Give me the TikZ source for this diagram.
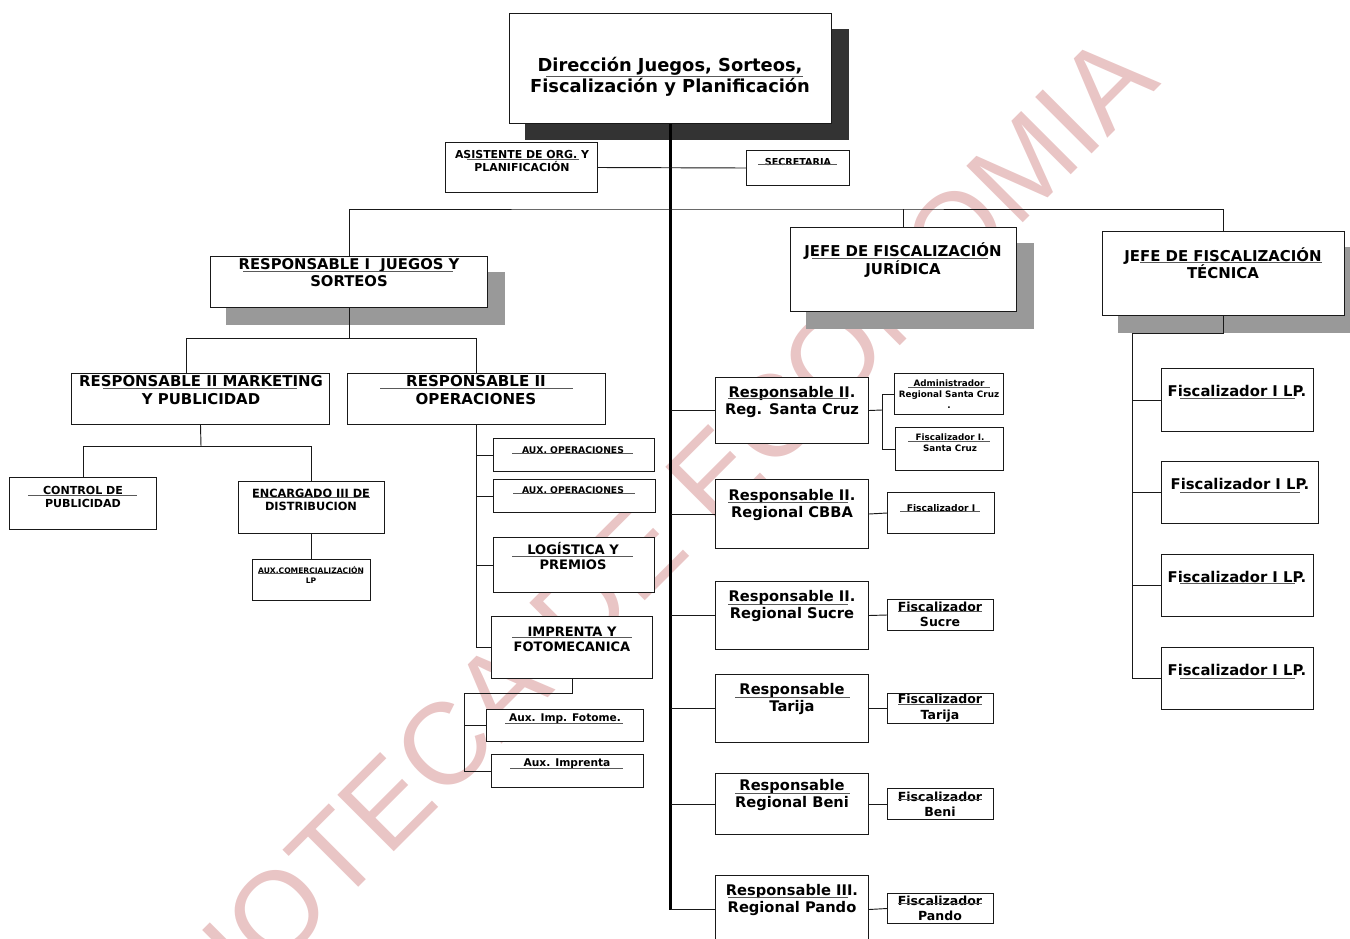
\documentclass[tikz,border=0pt]{standalone}
\usepackage{fontspec}
\setmainfont{DejaVu Sans}
\newfontfamily\wmfont{Liberation Sans}
\usetikzlibrary{backgrounds}
\definecolor{wm}{RGB}{233,197,197}
\definecolor{shdark}{RGB}{51,51,51}
\definecolor{shgray}{RGB}{153,153,153}
\definecolor{edge}{RGB}{25,25,25}
\newcommand\fs[2]{\fontsize{#1}{#2}\selectfont\bfseries}
\newcommand\ob[5]{\node[box, minimum width={(#4-#2)*0.75pt}, minimum height={(#5-#3)*0.75pt}] (#1) at (#2,#3) {};}
\newcommand\tx[5]{\node[txt, font=#4] (#1) at (#2,#3) {#5};}
\begin{document}
\begin{tikzpicture}[x=0.75pt,y=-0.75pt,
 box/.style={draw=edge, line width=0.75pt, fill=white, inner sep=0pt, anchor=north west},
 txt/.style={align=center, inner sep=0pt, text=black},
 conn/.style={draw=edge, line width=0.7pt},
 trunk/.style={draw=black, line width=1.8pt},
 uline/.style={draw=black!65, line width=0.6pt},
 shd/.style={fill=shgray},
 shk/.style={fill=shdark}]
\useasboundingbox (0,0) rectangle (1350,939);
\clip (0,0) rectangle (1350,939);
% boxes
\ob{top}{509}{13}{831}{123}
\ob{asis}{445}{142}{597}{192}
\ob{secr}{746}{150}{849}{185}
\ob{resp1}{210}{256}{487}{307}
\ob{jur}{790}{227}{1016}{311}
\ob{tec}{1102}{231}{1344}{315}
\ob{mkt}{71}{373}{329}{424}
\ob{ops}{347}{373}{605}{424}
\ob{ctrl}{9}{477}{156}{529}
\ob{enc}{238}{481}{384}{533}
\ob{auxc}{252}{559}{370}{600}
\ob{aux1}{493}{438}{654}{471}
\ob{aux2}{493}{479}{655}{512}
\ob{log}{493}{537}{654}{592}
\ob{imp}{491}{616}{652}{678}
\ob{auxi1}{486}{709}{643}{741}
\ob{auxi2}{491}{754}{643}{787}
\ob{sc}{715}{377}{868}{443}
\ob{cb}{715}{479}{868}{548}
\ob{su}{715}{581}{868}{649}
\ob{ta}{715}{674}{868}{742}
\ob{be}{715}{773}{868}{834}
\ob{pa}{715}{875}{868}{943}
\ob{adm}{894}{373}{1003}{414}
\ob{fsc}{895}{427}{1003}{470}
\ob{fi}{887}{492}{994}{533}
\ob{fsu}{887}{599}{993}{630}
\ob{fta}{887}{693}{993}{723}
\ob{fbe}{887}{788}{993}{819}
\ob{fpa}{887}{893}{993}{923}
\ob{fl1}{1161}{368}{1313}{431}
\ob{fl2}{1161}{461}{1318}{523}
\ob{fl3}{1161}{554}{1313}{616}
\ob{fl4}{1161}{647}{1313}{709}
% background: watermark, shadows, connectors
\begin{scope}[on background layer]
\node[rotate=45, anchor=base west, inner sep=0pt, text=wm, font=\wmfont\fontsize{87}{87}\selectfont] (wmk) at (73,1173) {BIBLIOTECA DE ECONOMIA};
\fill[shk] ([shift={(16,16)}]top.north west) rectangle ([shift={(17,16)}]top.south east);
\fill[shd] ([shift={(16,16)}]resp1.north west) rectangle ([shift={(17,17)}]resp1.south east);
\fill[shd] ([shift={(16,16)}]jur.north west) rectangle ([shift={(17,17)}]jur.south east);
\fill[shd] ([shift={(16,16)}]tec.north west) rectangle ([shift={(17,17)}]tec.south east);
% trunk
\draw[trunk] (top.south) -- (top.south |- pa.west);
\draw[conn] (asis.east) -- (secr.west);
\coordinate (h1) at (670,209);
\draw[conn] (resp1.north) |- (h1) -| (tec.north);
\draw[conn] (jur.north) -- (jur.north |- h1);
% responsable I
\coordinate (h2) at (349,338);
\coordinate (mktin) at (186,373);
\draw[conn] (resp1.south) -- (h2);
\draw[conn] (mktin) |- (ops.north |- h2) -- (ops.north);
\coordinate (h3) at (201,446);
\draw[conn] (mkt.south) -- (h3);
\draw[conn] (ctrl.north) |- (enc.north |- h3) -- (enc.north);
\draw[conn] (enc.south) -- (auxc.north);
% operaciones
\draw[conn] (ops.south) |- (imp.west);
\draw[conn] (ops.south |- aux1.west) -- (aux1.west);
\draw[conn] (ops.south |- aux2.west) -- (aux2.west);
\draw[conn] (ops.south |- log.west) -- (log.west);
\coordinate (k) at (464,693);
\draw[conn] (imp.south) |- (k) |- (auxi2.west);
\draw[conn] (k |- auxi1.west) -- (auxi1.west);
% regionales
\foreach \n in {sc,cb,su,ta,be,pa}{\draw[conn] (top.south |- \n.west) -- (\n.west);}
\coordinate (m) at (882,410);
\draw[conn] (sc.east) -- (m);
\draw[conn] (adm.west) -| (m |- fsc.west) -- (fsc.west);
\draw[conn] (cb.east) -- (fi.west);
\draw[conn] (su.east) -- (fsu.west);
\draw[conn] (ta.east) -- (fta.west);
\draw[conn] (be.east) -- (fbe.west);
\draw[conn] (pa.east) -- (fpa.west);
% tecnica
\coordinate (t) at (1132,333);
\draw[conn] (tec.south) |- (t) |- (fl4.west);
\foreach \n in {fl1,fl2,fl3}{\draw[conn] (t |- \n.west) -- (\n.west);}
\end{scope}
% texts
\tx{topt}{670}{77}{\fs{13.4}{15.75}}{Dirección Juegos, Sorteos,\\Fiscalización y Planificación}
\tx{asist}{522}{161}{\fs{8.2}{9.9}}{ASISTENTE DE ORG. Y\\PLANIFICACIÓN}
\tx{secrt}{798}{162}{\fs{7.2}{8.4}}{SECRETARIA}
\tx{resp1t}{349}{273}{\fs{11.1}{12.9}}{RESPONSABLE I~ JUEGOS Y\\SORTEOS}
\tx{jurt}{903}{260}{\fs{11.2}{12.9}}{JEFE DE FISCALIZACIÓN\\JURÍDICA}
\tx{tect}{1223}{263}{\fs{11.2}{12.9}}{JEFE DE FISCALIZACIÓN\\TÉCNICA}
\tx{mktt}{201}{390}{\fs{11.2}{12.9}}{RESPONSABLE II MARKETING\\Y PUBLICIDAD}
\tx{opst}{476}{390}{\fs{11.3}{12.9}}{RESPONSABLE II\\OPERACIONES}
\tx{ctrlt}{83}{497}{\fs{8.3}{9.9}}{CONTROL DE\\PUBLICIDAD}
\tx{enct}{311}{500}{\fs{8.5}{9.9}}{ENCARGADO III DE\\DISTRIBUCION}
\tx{auxct}{311}{575}{\fs{5.7}{6.9}}{AUX.COMERCIALIZACIÓN\\LP}
\tx{aux1t}{573}{450}{\fs{6.9}{8}}{AUX. OPERACIONES}
\tx{aux2t}{573}{490}{\fs{6.9}{8}}{AUX. OPERACIONES}
\tx{logt}{573}{556}{\fs{9.8}{11.4}}{LOGÍSTICA Y\\PREMIOS}
\tx{impt}{572}{639}{\fs{9.75}{11.4}}{IMPRENTA Y\\FOTOMECANICA}
\tx{auxi1t}{565}{719}{\fs{7.95}{9}}{Aux. Imp. Fotome.}
\tx{auxi2t}{567}{764}{\fs{8}{9}}{Aux. Imprenta}
\tx{sct}{792}{402}{\fs{11}{12.9}}{Responsable II.\\Reg. Santa Cruz}
\tx{cbt}{792}{505}{\fs{11}{12.9}}{Responsable II.\\Regional CBBA}
\tx{sut}{792}{606}{\fs{11}{12.9}}{Responsable II.\\Regional Sucre}
\tx{tat}{792}{699}{\fs{11}{12.9}}{Responsable\\Tarija}
\tx{bet}{792}{795}{\fs{11}{12.9}}{Responsable\\Regional Beni}
\tx{pat}{792}{900}{\fs{11}{12.9}}{Responsable III.\\Regional Pando}
\tx{admt}{949}{394}{\fs{6.6}{8.4}}{Administrador\\Regional Santa Cruz\\.}
\tx{fsct}{950}{443}{\fs{6.6}{8.4}}{Fiscalizador I.\\Santa Cruz}
\tx{fit}{941}{508}{\fs{6.9}{8}}{Fiscalizador I}
\tx{fsut}{940}{614}{\fs{9.4}{11.4}}{Fiscalizador\\Sucre}
\tx{ftat}{940}{708}{\fs{9.4}{11.4}}{Fiscalizador\\Tarija}
\tx{fbet}{940}{804}{\fs{9.4}{11.4}}{Fiscalizador\\Beni}
\tx{fpat}{940}{908}{\fs{9.4}{11.4}}{Fiscalizador\\Pando}
\tx{fl1t}{1237}{391}{\fs{11.1}{12}}{Fiscalizador I LP.}
\tx{fl2t}{1240}{484}{\fs{11.1}{12}}{Fiscalizador I LP.}
\tx{fl3t}{1237}{577}{\fs{11.1}{12}}{Fiscalizador I LP.}
\tx{fl4t}{1237}{670}{\fs{11.1}{12}}{Fiscalizador I LP.}
% underlines
\draw[uline] (546,76) -- (803,76);
\draw[uline] (467,159) -- (579,159);
\draw[uline] (758,164) -- (837,164);
\draw[uline] (243,271) -- (453,271);
\draw[uline] (812,258) -- (988,258);
\draw[uline] (1140,262) -- (1322,262);
\draw[uline] (103,388) -- (297,388);
\draw[uline] (380,388) -- (573,388);
\draw[uline] (28,495) -- (137,495);
\draw[uline] (253,497) -- (370,497);
\draw[uline] (258,573) -- (363,573);
\draw[uline] (512,453) -- (633,453);
\draw[uline] (513,493) -- (635,493);
\draw[uline] (512,556) -- (633,556);
\draw[uline] (512,637) -- (632,637);
\draw[uline] (505,723) -- (623,723);
\draw[uline] (510,768) -- (623,768);
\draw[uline] (728,398) -- (848,398);
\draw[uline] (728,502) -- (848,502);
\draw[uline] (728,604) -- (848,604);
\draw[uline] (735,697) -- (850,697);
\draw[uline] (735,793) -- (850,793);
\draw[uline] (728,897) -- (848,897);
\draw[uline] (908,387) -- (990,387);
\draw[uline] (908,441) -- (990,441);
\draw[uline] (900,511) -- (980,511);
\draw[uline] (898,611) -- (982,611);
\draw[uline] (898,704) -- (982,704);
\draw[uline] (898,799) -- (982,799);
\draw[uline] (898,903) -- (982,903);
\draw[uline] (1180,398) -- (1295,398);
\draw[uline] (1180,492) -- (1300,492);
\draw[uline] (1180,583) -- (1295,583);
\draw[uline] (1180,678) -- (1295,678);
\end{tikzpicture}
\end{document}
